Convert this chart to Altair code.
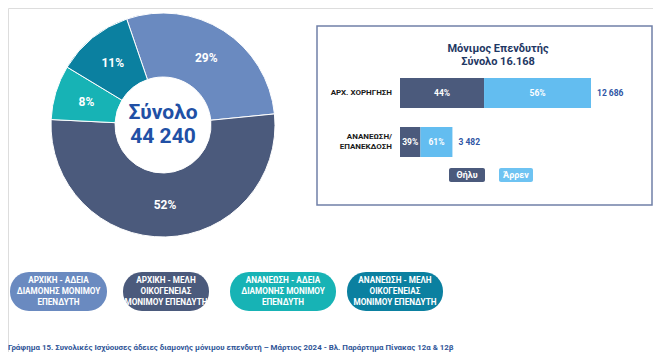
import math
import altair as alt
import pandas as pd

# ---------------- data ----------------
categories = [
    "ΑΡΧΙΚΗ - ΑΔΕΙΑ ΔΙΑΜΟΝΗΣ ΜΟΝΙΜΟΥ ΕΠΕΝΔΥΤΗ",
    "ΑΡΧΙΚΗ - ΜΕΛΗ ΟΙΚΟΓΕΝΕΙΑΣ ΜΟΝΙΜΟΥ ΕΠΕΝΔΥΤΗ",
    "ΑΝΑΝΕΩΣΗ - ΑΔΕΙΑ ΔΙΑΜΟΝΗΣ ΜΟΝΙΜΟΥ ΕΠΕΝΔΥΤΗ",
    "ΑΝΑΝΕΩΣΗ - ΜΕΛΗ ΟΙΚΟΓΕΝΕΙΑΣ ΜΟΝΙΜΟΥ ΕΠΕΝΔΥΤΗ",
]
pill_lines = [
    ["ΑΡΧΙΚΗ - ΑΔΕΙΑ", "ΔΙΑΜΟΝΗΣ ΜΟΝΙΜΟΥ", "ΕΠΕΝΔΥΤΗ"],
    ["ΑΡΧΙΚΗ - ΜΕΛΗ", "ΟΙΚΟΓΕΝΕΙΑΣ", "ΜΟΝΙΜΟΥ ΕΠΕΝΔΥΤΗ"],
    ["ΑΝΑΝΕΩΣΗ - ΑΔΕΙΑ", "ΔΙΑΜΟΝΗΣ ΜΟΝΙΜΟΥ", "ΕΠΕΝΔΥΤΗ"],
    ["ΑΝΑΝΕΩΣΗ - ΜΕΛΗ", "ΟΙΚΟΓΕΝΕΙΑΣ", "ΜΟΝΙΜΟΥ ΕΠΕΝΔΥΤΗ"],
]
permit_values = [12686, 23160, 3482, 4912]
cat_colors = ["#6A8AC0", "#4B5A7C", "#17B3B5", "#0B80A0"]

rows = ["ΑΡΧ. ΧΟΡΗΓΗΣΗ", "ΑΝΑΝΕΩΣΗ/\nΕΠΑΝΕΚΔΟΣΗ"]
sexes = ["Θήλυ", "Άρρεν"]
female_values = [5582, 1358]
male_values = [7104, 2124]
sex_colors = ["#4B5A7C", "#63BDF0"]

caption = ("Γράφημα 15. Συνολικές Ισχύουσες άδειες διαμονής μόνιμου επενδυτή – "
           "Μάρτιος 2024 - Βλ. Παράρτημα  Πίνακας 12α & 12β")

FONT = "Roboto"
total_all = sum(permit_values)
total_all_txt = f"{total_all:,}".replace(",", " ")
investor_total = sum(female_values) + sum(male_values)
investor_txt = f"{investor_total:,}".replace(",", ".")

pie_df = pd.DataFrame({"cat": categories, "value": permit_values,
                       "idx": list(range(len(categories)))})
bar_df = pd.DataFrame({
    "row": rows + rows,
    "sex": [sexes[0]] * 2 + [sexes[1]] * 2,
    "value": female_values + male_values,
    "ord": [0, 0, 1, 1],
})
one = pd.DataFrame({"k": [0]})

# ---------------- donut ----------------
CX, CY = 155, 117
start = 2 * math.pi - 0.33
theta_scale = alt.Scale(range=[start, start + 2 * math.pi])
cat_scale = alt.Scale(domain=categories, range=cat_colors)

pie_base = alt.Chart(pie_df).encode(
    theta=alt.Theta("value:Q", stack=True, scale=theta_scale),
    order=alt.Order("idx:Q"),
    x=alt.value(CX), y=alt.value(CY),
)
donut = pie_base.mark_arc(outerRadius=112, innerRadius=48, stroke="white",
                          strokeWidth=1).encode(
    color=alt.Color("cat:N", scale=cat_scale, legend=None))
pie_text = pie_base.mark_text(radius=80, font=FONT, fontSize=12, fontWeight="bold",
                              color="white").transform_joinaggregate(
    tot="sum(value)").transform_calculate(
    lbl="format(datum.value / datum.tot * 100, '.0f') + '%'").encode(
    text="lbl:N")
center1 = alt.Chart(one).mark_text(font=FONT, fontSize=21, fontWeight="bold",
                                   color="#2150A5", text="Σύνολο").encode(
    x=alt.value(CX), y=alt.value(105))
center2 = alt.Chart(one).mark_text(font=FONT, fontSize=21, fontWeight="bold",
                                   color="#2150A5", text=total_all_txt).encode(
    x=alt.value(CX), y=alt.value(129))

# ---------------- right panel ----------------
frame = alt.Chart(one).mark_rect(fill="white", stroke="#7080A8", strokeWidth=1.5).encode(
    x=alt.value(309), x2=alt.value(644), y=alt.value(18), y2=alt.value(197))
title1 = alt.Chart(one).mark_text(font=FONT, fontSize=11, fontWeight="bold",
                                  color="#1F3864", text="Μόνιμος Επενδυτής").encode(
    x=alt.value(490), y=alt.value(41))
title2 = alt.Chart(one).mark_text(font=FONT, fontSize=11, fontWeight="bold",
                                  color="#1F3864", text="Σύνολο " + investor_txt).encode(
    x=alt.value(490), y=alt.value(54))

xscale = alt.Scale(domain=[0, max(f + m for f, m in zip(female_values, male_values))],
                   range=[392, 583])
yscale = alt.Scale(type="band", domain=rows, range=[70, 149],
                   paddingInner=0.388, paddingOuter=0)
sex_scale = alt.Scale(domain=sexes, range=sex_colors)

Y = alt.Y("row:N", scale=yscale, axis=None, sort=rows)

bars = alt.Chart(bar_df).mark_bar().encode(
    x=alt.X("value:Q", stack="zero", scale=xscale, axis=None),
    y=Y,
    color=alt.Color("sex:N", scale=sex_scale, legend=None),
    order=alt.Order("ord:Q"),
)
bar_lbl = alt.Chart(bar_df).transform_joinaggregate(
    tot="sum(value)", groupby=["row"]).transform_stack(
    stack="value", groupby=["row"], as_=["v0", "v1"],
    sort=[alt.SortField("ord")]).transform_calculate(
    mid="(datum.v0 + datum.v1) / 2",
    lbl="format(datum.value / datum.tot * 100, '.0f') + '%'").mark_text(
    font=FONT, fontSize=8.5, fontWeight="bold", color="white").encode(
    x=alt.X("mid:Q", scale=xscale, axis=None),
    y=Y,
    text="lbl:N")
tot_lbl = alt.Chart(bar_df).transform_aggregate(
    tot="sum(value)", groupby=["row"]).transform_calculate(
    lbl="replace(format(datum.tot, ','), ',', ' ')").mark_text(
    font=FONT, fontSize=8.5, fontWeight="bold", color="#2F55A4", align="left", dx=6).encode(
    x=alt.X("tot:Q", scale=xscale, axis=None),
    y=Y,
    text="lbl:N")
row_df = pd.DataFrame({"row": rows})
row_lbls = []
for i, r in enumerate(rows):
    n_lines = r.count("\n") + 1
    row_lbls.append(alt.Chart(row_df).transform_filter(
        alt.datum.row == r).mark_text(
        font=FONT, fontSize=8, fontWeight="bold", color="#1A1A1A", align="right",
        lineBreak="\n", lineHeight=10, dy=-(n_lines - 1) * 5).encode(
        x=alt.value(384), y=Y, text="row:N"))

buttons = []
for i, (sx, col) in enumerate(zip(sexes, ["#4B5A7C", "#6EC3F2"])):
    x0 = [441, 491][i]
    w = [36, 34][i]
    buttons.append(alt.Chart(one).mark_rect(fill=col, cornerRadius=2).encode(
        x=alt.value(x0), x2=alt.value(x0 + w), y=alt.value(160), y2=alt.value(174)))
    buttons.append(alt.Chart(one).mark_text(font=FONT, fontSize=9, fontWeight="bold",
                                            color="white", text=sx).encode(
        x=alt.value(x0 + w / 2), y=alt.value(167)))

# ---------------- bottom legend pills ----------------
pills = []
pill_x = [(2, 99), (115, 201), (222, 328), (339, 435)]
for (x0, x1), lines, col in zip(pill_x, pill_lines, cat_colors):
    pills.append(alt.Chart(one).mark_rect(fill=col, cornerRadius=19).encode(
        x=alt.value(x0), x2=alt.value(x1), y=alt.value(264), y2=alt.value(303)))
    pills.append(alt.Chart(one).mark_text(font=FONT, fontSize=8.2, fontWeight="bold",
                                          color="white", text=lines, lineHeight=11).encode(
        x=alt.value((x0 + x1) / 2), y=alt.value(284 - 11)))

cap = alt.Chart(one).mark_text(font=FONT, fontSize=7.9, fontWeight="bold",
                               color="#2F5597", text=caption, align="left",
                               baseline="bottom").encode(
    x=alt.value(0), y=alt.value(344))

chart = alt.layer(
    donut, pie_text, center1, center2,
    frame, title1, title2, bars, bar_lbl, tot_lbl, *row_lbls,
    *buttons, *pills, cap,
).resolve_scale(color="independent").properties(
    width=645, height=344, padding=0,
    autosize=alt.AutoSizeParams(type="none"),
).configure_view(stroke=None).configure(background="white")

chart.save("out.html", embed_options={"renderer": "svg", "actions": False})
